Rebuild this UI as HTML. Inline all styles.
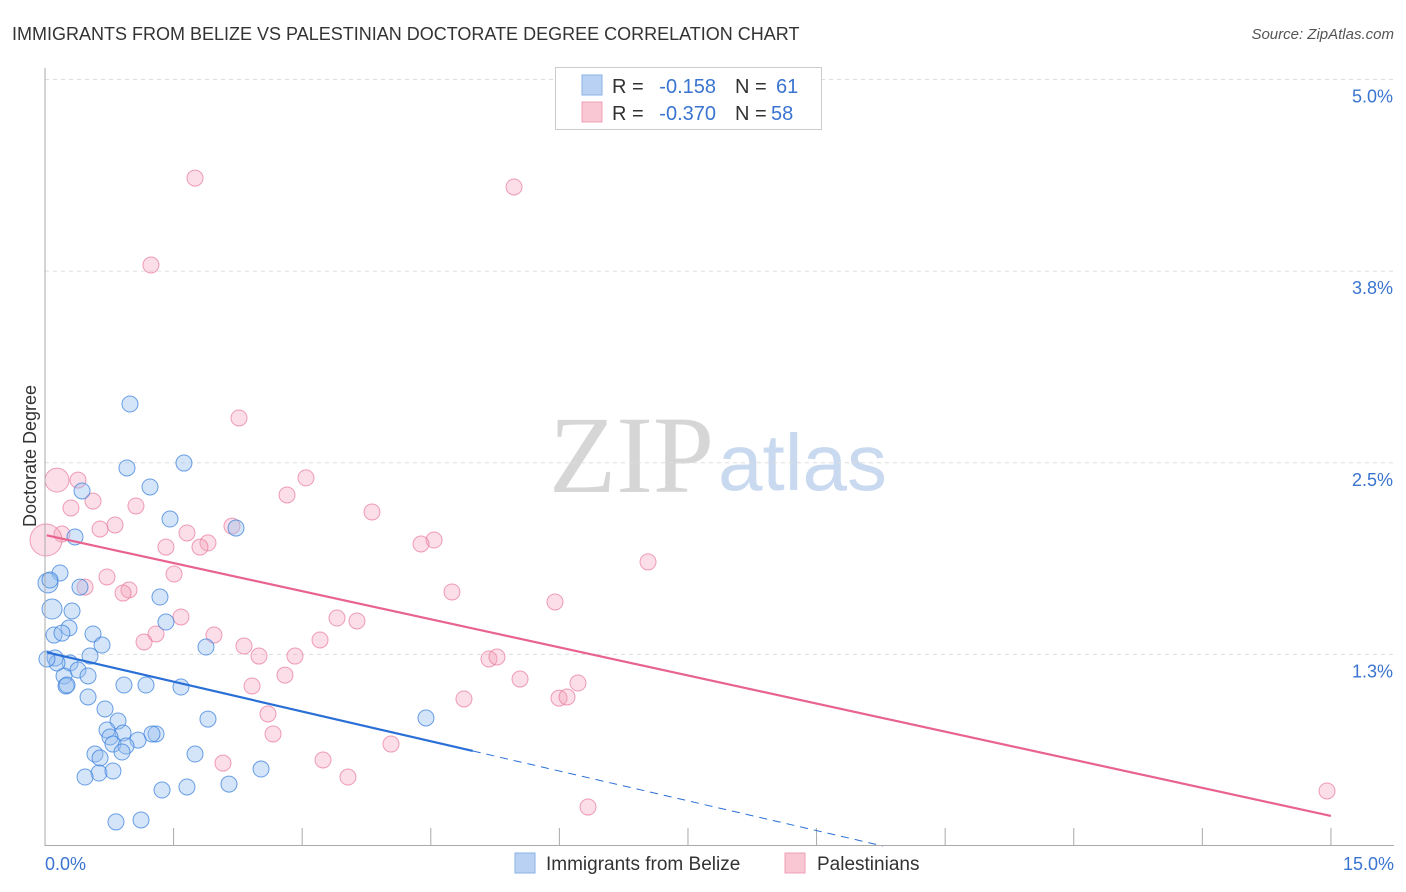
<!DOCTYPE html>
<html><head><meta charset="utf-8"><style>
body{margin:0;background:#fff;font-family:"Liberation Sans",sans-serif;}
svg{display:block}
</style></head><body>
<svg id="c" width="1406" height="892">
<text x="12" y="40" font-size="18" fill="#333">IMMIGRANTS FROM BELIZE VS PALESTINIAN DOCTORATE DEGREE CORRELATION CHART</text>
<text x="1394" y="39" font-size="15" fill="#555" font-style="italic" text-anchor="end">Source: ZipAtlas.com</text>
<text x="714" y="492" font-size="110" fill="#d6d6d6" font-family="Liberation Serif,serif" text-anchor="end">ZIP</text>
<text x="718" y="490" font-size="80" fill="#c9d9ef">atlas</text>
<g id="grid"></g><g id="pts"></g><g id="lines"></g>
<line x1="45" y1="68" x2="45" y2="846" stroke="#aaa"/>
<line x1="45" y1="845.5" x2="1394" y2="845.5" stroke="#aaa"/>
<text x="36" y="456" font-size="18" fill="#333" text-anchor="middle" transform="rotate(-90 36 456)">Doctorate Degree</text>
<text x="45" y="870" font-size="18" fill="#3a74d0">0.0%</text>
<text x="1394" y="870" font-size="18" fill="#3a74d0" text-anchor="end">15.0%</text>
<g font-size="20">
<rect x="555.5" y="67.5" width="266" height="62" fill="#fff" stroke="#ccc"/>
<rect x="582" y="75" width="20" height="20" fill="#b9d2f3" stroke="#8ab0e6"/>
<rect x="582" y="102" width="20" height="20" fill="#f9c6d4" stroke="#eea0b6"/>
<text x="612" y="93" fill="#333">R =</text>
<text x="716" y="93" fill="#3a74d0" text-anchor="end">-0.158</text>
<text x="735" y="93" fill="#333">N =</text>
<text x="776" y="93" fill="#3a74d0">61</text>
<text x="612" y="120" fill="#333">R =</text>
<text x="716" y="120" fill="#3a74d0" text-anchor="end">-0.370</text>
<text x="735" y="120" fill="#333">N =</text>
<text x="771" y="120" fill="#3a74d0">58</text>
</g>
<g>
<rect x="515" y="853" width="20" height="20" fill="#b9d2f3" stroke="#8ab0e6"/>
<text x="546" y="870" font-size="19" fill="#333">Immigrants from Belize</text>
<rect x="785" y="853" width="20" height="20" fill="#f9c6d4" stroke="#eea0b6"/>
<text x="817" y="870" font-size="19" fill="#333">Palestinians</text>
</g>
</svg>
<script>
const yTicks=[1.25,2.5,3.75,5.0];
const yTickLabels=["1.3%","2.5%","3.8%","5.0%"];
const xTicks=[1.5,3,4.5,6,7.5,9,10.5,12,13.5,15];
const beliePx=[[130,404],[127,468],[184,463],[150,487],[82,491],[236,528],[170,519],[75,537],[60,573],[48,583,10],[50,580],[80,587],[160,597],[52,609,10],[72,611],[166,622],[69,628],[54,635],[93,634],[62,633],[102,645],[90,656],[55,658],[70,663],[57,663],[78,670],[88,676],[64,676],[66,686],[124,685],[146,685],[181,687],[88,697],[206,647],[105,709],[118,721],[208,719],[426,718],[107,730],[123,733],[110,737],[138,740],[156,734],[152,734],[113,744],[126,746],[95,754],[100,758],[122,752],[195,754],[99,773],[113,771],[85,777],[261,769],[162,790],[187,787],[229,784],[116,822],[141,820],[47,659],[67,685]];
const palPx=[[195,178],[514,187],[151,265],[239,418],[306,478],[57,480,12],[78,480],[287,495],[93,501],[71,508],[136,506],[372,512],[115,525],[100,529],[232,526],[62,534],[46,540,16],[187,533],[208,543],[200,547],[166,547],[434,540],[421,544],[648,562],[174,574],[107,577],[85,587],[129,590],[123,593],[452,592],[555,602],[181,617],[337,618],[357,621],[156,634],[214,635],[320,640],[144,642],[244,646],[259,656],[295,656],[489,659],[497,657],[285,675],[252,686],[520,679],[578,683],[464,699],[559,698],[567,697],[268,714],[273,734],[391,744],[223,763],[323,760],[348,777],[588,807],[1327,791]];
const belizeX=beliePx.map(p=>+((p[0]-45)/85.73).toFixed(3));
const belizeY=beliePx.map(p=>+((846-p[1])/153.3).toFixed(3));
const belizeR=beliePx.map(p=>p[2]||8);
const palX=palPx.map(p=>+((p[0]-45)/85.73).toFixed(3));
const palY=palPx.map(p=>+((846-p[1])/153.3).toFixed(3));
const palR=palPx.map(p=>p[2]||8);
const belizeTrend=[1.266,-0.1295];
const palTrend=[2.029,-0.1222];
const sx=v=>45+v*85.73, sy=v=>846-v*153.3;
const NS="http://www.w3.org/2000/svg";
function mk(t,a,p){const e=document.createElementNS(NS,t);for(const k in a)e.setAttribute(k,a[k]);p.appendChild(e);return e;}
const grid=document.getElementById('grid');
yTicks.forEach((v,i)=>{
 const l=mk('line',{x1:45,x2:1394,y1:sy(v),y2:sy(v),stroke:'#ddd','stroke-dasharray':'4,4'},grid);
 
 
 const t=mk('text',{x:1393,y:sy(v)+23,'font-size':18,fill:'#3a74d0','text-anchor':'end'},grid);
 t.textContent=yTickLabels[i];
 
 
});
xTicks.forEach(v=>{
 const l=mk('line',{x1:sx(v),x2:sx(v),y1:828,y2:846,stroke:'#aaa'},grid);
 
 
});
const pts=document.getElementById('pts');
palX.forEach((x,i)=>{
 const c=mk('circle',{cx:sx(x),cy:sy(palY[i]),r:palR[i],fill:'rgba(244,160,185,0.35)',stroke:'rgba(232,120,155,0.7)','stroke-width':1},pts);
 
 
});
belizeX.forEach((x,i)=>{
 const c=mk('circle',{cx:sx(x),cy:sy(belizeY[i]),r:belizeR[i],fill:'rgba(150,190,240,0.4)',stroke:'rgba(60,130,220,0.75)','stroke-width':1},pts);
 
 
});
const lines=document.getElementById('lines');
const f=(tr,x)=>tr[0]+tr[1]*x;
let l=mk('line',{x1:sx(0.02),y1:sy(f(palTrend,0.02)),x2:sx(15),y2:sy(f(palTrend,15)),stroke:'#e8638e','stroke-width':2.2},lines);


l=mk('line',{x1:sx(0.02),y1:sy(f(belizeTrend,0.02)),x2:sx(4.99),y2:sy(f(belizeTrend,4.99)),stroke:'#2a6fd6','stroke-width':2.2},lines);


const xe=-belizeTrend[0]/belizeTrend[1];
l=mk('line',{x1:sx(4.99),y1:sy(f(belizeTrend,4.99)),x2:sx(xe),y2:sy(0),stroke:'#2a6fd6','stroke-width':1,'stroke-dasharray':'8,6'},lines);


</script>
</body></html>
